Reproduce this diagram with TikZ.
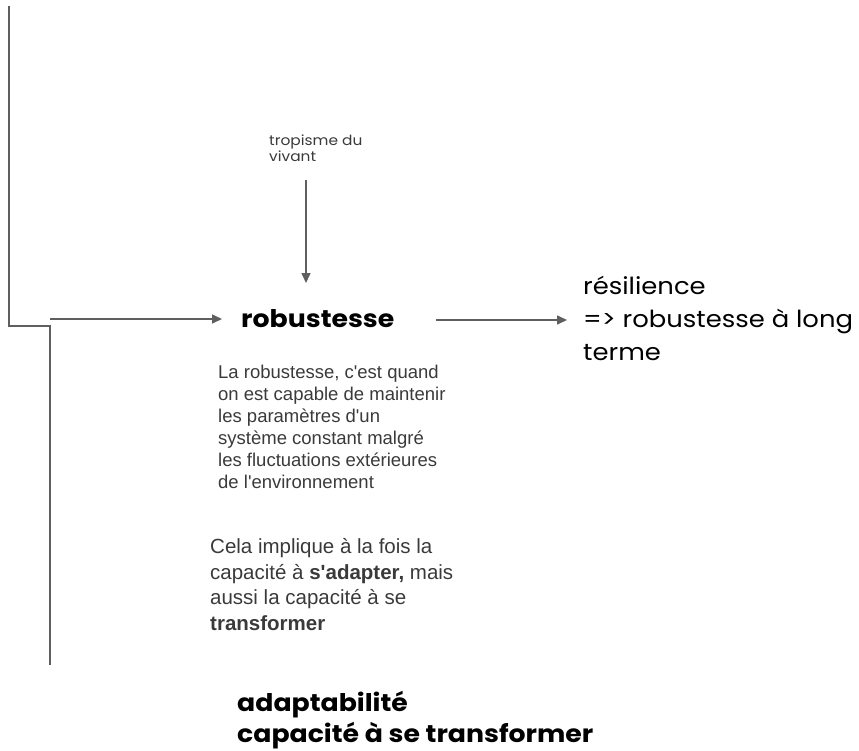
\documentclass[tikz,border=0pt]{standalone}
\usepackage{fontspec}
\setmainfont{Liberation Sans}
\newfontfamily\titlefont[FakeStretch=1.1]{Poppins}
\usetikzlibrary{arrows.meta}
\definecolor{linegray}{HTML}{5F5F5F}
\definecolor{txtgray}{HTML}{3A3A3A}
\newcommand{\apos}{\textquotesingle}
\begin{document}
\begin{tikzpicture}[x=1pt,y=-1pt,
  conn/.style={draw=linegray,line width=1.5pt},
  arr/.style={conn,-{Triangle[length=10pt,width=9pt]}},
  title/.style={inner sep=0pt,anchor=base west,font=\titlefont\fontsize{24.3}{31}\selectfont\bfseries,text=black},
  label/.style={inner sep=0pt,anchor=base west,align=left,font=\titlefont\fontsize{23.5}{33}\selectfont,text=black},
  small/.style={inner sep=0pt,anchor=base west,align=left,font=\titlefont\fontsize{14}{11.5}\selectfont,text=txtgray},
  para/.style={inner sep=0pt,anchor=base west,align=left,text=txtgray}]
\useasboundingbox (0,0) rectangle (859,750);
\coordinate (top) at (9,6);
\coordinate (bend1) at (9,326);
\coordinate (bend2) at (50,326);
\coordinate (bottom) at (50,665);
\coordinate (inStart) at (50,319);
\coordinate (inEnd) at (222,319);
\coordinate (outStart) at (436,320);
\coordinate (outEnd) at (567,320);
\coordinate (tropEnd) at (306,180);
\coordinate (robTop) at (306,283);
\node[title] (rob) at (241,327) {robustesse};
\node[small] (trop) at (269,161) {tropisme du\\vivant};
\node[label] (res) at (583,360) {résilience\\=> robustesse à long\\terme};
\node[para,font=\fontsize{18.5}{22}\selectfont] (p1) at (218,488) {La robustesse, c\apos est quand\\on est capable de maintenir\\les paramètres d\apos un\\système constant malgré\\les fluctuations extérieures\\de l\apos environnement};
\node[para,font=\fontsize{20.5}{25.5}\selectfont] (p2) at (210,630) {Cela implique à la fois la\\capacité à \textbf{s\apos adapter,} mais\\aussi la capacité à se\\\textbf{transformer}};
\node[title,align=left] (adapt) at (237,742) {adaptabilité\\capacité à se transformer};
\draw[conn] (top) -- (bend1) -- (bend2) -- (bottom);
\draw[arr] (inStart) -- (inEnd);
\draw[arr] (tropEnd) -- (robTop);
\draw[arr] (outStart) -- (outEnd);
\end{tikzpicture}
\end{document}
